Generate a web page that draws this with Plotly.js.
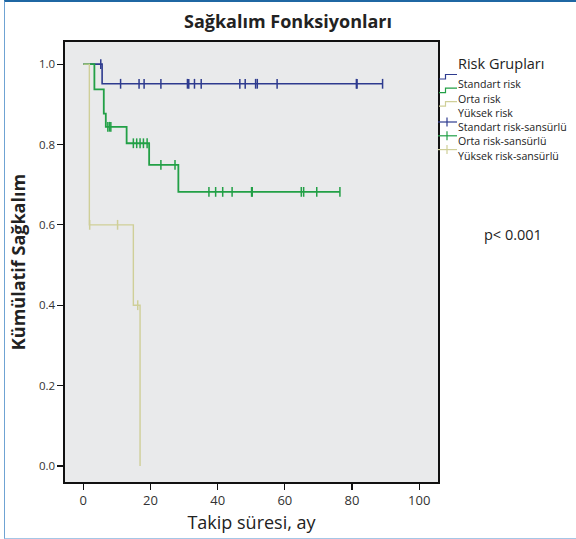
<!DOCTYPE html>
<html>
<head>
<meta charset="utf-8">
<script src="https://cdn.plot.ly/plotly-3.0.1.min.js"></script>
<style>
  html, body { margin: 0; padding: 0; background: #ffffff; }
  #frame { position: absolute; left: 4px; top: 0; width: 572px; height: 536px;
           border-left: 1px solid #6fa3d3; border-top: 2px solid #1f67a3; border-bottom: 1px solid #a6c6e6;
           pointer-events: none; z-index: 10; }
  #chart { position: absolute; left: 0; top: 0; width: 576px; height: 539px; }
</style>
</head>
<body>
<div id="chart"></div>
<div id="frame"></div>
<script>
// ---- Data ----
const groupNames = ["Standart risk", "Orta risk", "Yüksek risk"];
const censorNames = ["Standart risk-sansürlü", "Orta risk-sansürlü", "Yüksek risk-sansürlü"];
const legendTitle = "Risk Grupları";

// Kaplan-Meier step curves (event times, survival after event)
const stdTimes = [0, 5.6, 89.1];
const stdSurv  = [1.0, 0.951, 0.951];
const ortaTimes = [0, 3.3, 6.1, 6.7, 12.9, 19.6, 28.3, 76.4];
const ortaSurv  = [1.0, 0.937, 0.877, 0.844, 0.803, 0.749, 0.682, 0.682];
const yukTimes = [0, 1.8, 14.9, 16.9];
const yukSurv  = [1.0, 0.6, 0.4, 0.0];

// Censored observations
const stdCensT = [5.2, 11.1, 16.6, 18.1, 23.1, 31.0, 31.4, 33.1, 35.1, 46.6, 48.2, 51.3, 51.8, 57.7, 81.3, 81.5, 89.1];
const stdCensS = [1.0, 0.951, 0.951, 0.951, 0.951, 0.951, 0.951, 0.951, 0.951, 0.951, 0.951, 0.951, 0.951, 0.951, 0.951, 0.951, 0.951];
const ortaCensT = [7.3, 7.8, 8.2, 14.9, 15.9, 16.9, 17.9, 19.0, 23.1, 27.3, 37.4, 39.4, 41.5, 44.3, 50.1, 50.3, 64.9, 65.6, 69.5, 76.4];
const ortaCensS = [0.844, 0.844, 0.844, 0.803, 0.803, 0.803, 0.803, 0.803, 0.749, 0.749, 0.682, 0.682, 0.682, 0.682, 0.682, 0.682, 0.682, 0.682, 0.682, 0.682];
const yukCensT = [1.9, 10.2, 16.2];
const yukCensS = [0.6, 0.6, 0.4];

const xTicks = [0, 20, 40, 60, 80, 100];
const yTicks = [0.0, 0.2, 0.4, 0.6, 0.8, 1.0];
const pText = "p< 0.001";

// ---- Styles ----
const colors = ["#2e3b8f", "#22a046", "#cfcf98"];
const lineWidths = [1.6, 1.8, 1.4];

const curveT = [stdTimes, ortaTimes, yukTimes];
const curveS = [stdSurv, ortaSurv, yukSurv];
const censT = [stdCensT, ortaCensT, yukCensT];
const censS = [stdCensS, ortaCensS, yukCensS];

const traces = [];
for (let i = 0; i < 3; i++) {
  traces.push({
    x: curveT[i], y: curveS[i], type: "scatter", mode: "lines",
    line: { shape: "hv", color: colors[i], width: lineWidths[i] },
    name: groupNames[i], showlegend: false, hoverinfo: "skip"
  });
}
for (let i = 0; i < 3; i++) {
  traces.push({
    x: censT[i], y: censS[i], type: "scatter", mode: "markers",
    marker: { symbol: "line-ns", size: 7, color: colors[i], line: { color: colors[i], width: 1.5 } },
    name: censorNames[i], showlegend: false, hoverinfo: "skip"
  });
}

// Plot area in pixels
const L = 65, R = 438, T = 42, B = 482, W = 576, H = 539;
const px = v => (v - L) / (R - L);
const py = v => (B - v) / (B - T);

const shapes = [];
const annotations = [];
// Legend title
annotations.push({ xref: "paper", yref: "paper", x: px(457), y: py(63), xanchor: "left", yanchor: "middle",
  text: legendTitle, showarrow: false, borderpad: 0, font: { family: "Open Sans", size: 14.5, color: "#222" } });
const labels = groupNames.concat(censorNames);
const step = 14.2;
for (let i = 0; i < 6; i++) {
  annotations.push({ xref: "paper", yref: "paper", x: px(457), y: py(84.5 + step * i), xanchor: "left", yanchor: "middle",
    text: labels[i], showarrow: false, borderpad: 0, font: { family: "Open Sans", size: 10.6, color: "#222" } });
}
// Legend keys: step symbols and censor crosses
for (let i = 0; i < 3; i++) {
  const lo = 79 + 13.6 * i, hi = lo - 4.5;
  shapes.push({ type: "path", xref: "paper", yref: "paper",
    path: "M" + px(439) + "," + py(lo) + " L" + px(445.5) + "," + py(lo) + " L" + px(445.5) + "," + py(hi) + " L" + px(457) + "," + py(hi),
    line: { color: colors[i], width: 1.2 } });
  const cy = 122 + 13.8 * i;
  shapes.push({ type: "line", xref: "paper", yref: "paper", x0: px(438), x1: px(457), y0: py(cy), y1: py(cy),
    line: { color: colors[i], width: 1.2 } });
  shapes.push({ type: "line", xref: "paper", yref: "paper", x0: px(447), x1: px(447), y0: py(cy - 4.5), y1: py(cy + 4.5),
    line: { color: colors[i], width: 1.2 } });
}
// p-value
annotations.push({ xref: "paper", yref: "paper", x: px(513), y: py(234), xanchor: "center", yanchor: "middle",
  text: pText, showarrow: false, font: { family: "Open Sans", size: 14.5, color: "#222" } });

const layout = {
  width: W, height: H,
  margin: { l: L, r: W - R, t: T, b: H - B, pad: 0 },
  paper_bgcolor: "rgba(0,0,0,0)",
  plot_bgcolor: "#e9eaeb",
  showlegend: false,
  title: { text: "<b>Sağkalım Fonksiyonları</b>", xref: "container", x: 0.5, xanchor: "center",
           yref: "container", y: 1 - 22 / H, yanchor: "middle",
           font: { family: "Open Sans", size: 18, color: "#222" } },
  xaxis: {
    range: [-5.45, 105.6], tickvals: xTicks, ticktext: xTicks.map(String),
    showgrid: false, zeroline: false, showline: true, mirror: true, linecolor: "#111", linewidth: 1.6,
    ticks: "outside", ticklen: 6, tickwidth: 1.2, tickcolor: "#111",
    tickfont: { family: "Open Sans", size: 13, color: "#333" },
    title: { text: "Takip süresi, ay", font: { family: "Open Sans", size: 18, color: "#222" }, standoff: 8 }
  },
  yaxis: {
    range: [-0.04, 1.055], tickvals: yTicks, ticktext: yTicks.map(v => v.toFixed(1)),
    showgrid: false, zeroline: false, showline: true, mirror: true, linecolor: "#111", linewidth: 1.6,
    ticks: "outside", ticklen: 6, tickwidth: 1.2, tickcolor: "#111",
    tickfont: { family: "Open Sans", size: 11.5, color: "#333" },
    title: { text: "<b>Kümülatif Sağkalım</b>", font: { family: "Open Sans", size: 18, color: "#222" }, standoff: 8 }
  },
  shapes: shapes,
  annotations: annotations
};

Plotly.newPlot("chart", traces, layout, { staticPlot: true, displayModeBar: false });
</script>
</body>
</html>
